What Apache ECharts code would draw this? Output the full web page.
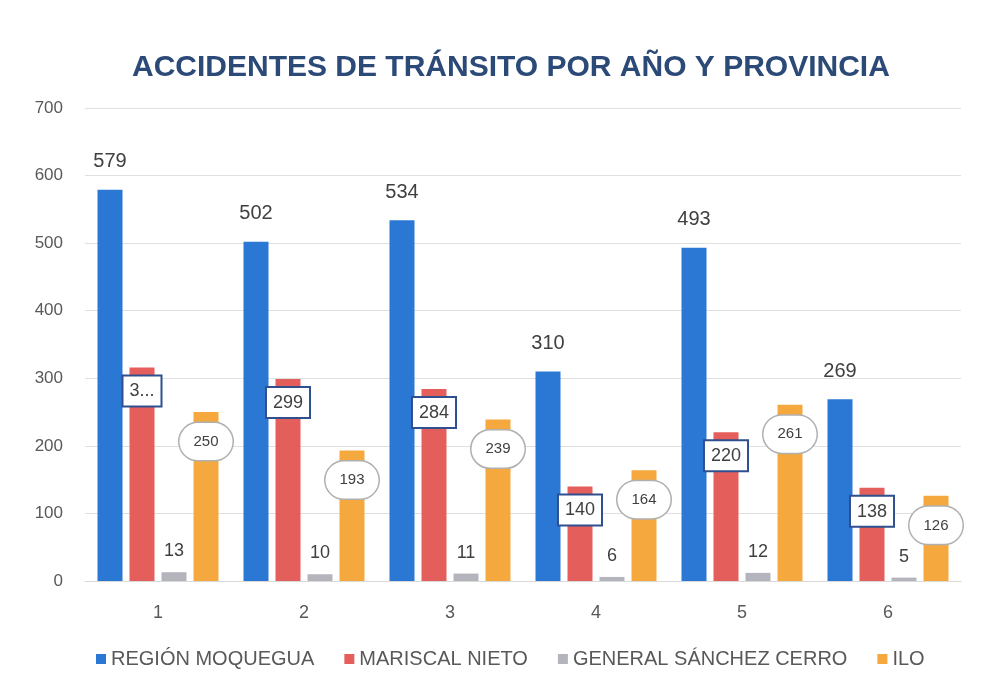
<!DOCTYPE html>
<html><head><meta charset="utf-8">
<script src="https://cdn.jsdelivr.net/npm/echarts@6/dist/echarts.min.js"></script>
<style>html,body{margin:0;padding:0;background:#fff}#c{width:983px;height:700px}</style>
</head><body><div id="c"></div>
<script>
const categories = ['1','2','3','4','5','6'];
const regionMoquegua = [579, 502, 534, 310, 493, 269];
const mariscalNieto = [316, 299, 284, 140, 220, 138];
const mariscalLabels = ['3...', '299', '284', '140', '220', '138'];
const generalSanchez = [13, 10, 11, 6, 12, 5];
const ilo = [250, 193, 239, 164, 261, 126];
const seriesNames = ['REGIÓN MOQUEGUA', 'MARISCAL NIETO', 'GENERAL SÁNCHEZ CERRO', 'ILO'];
const yTicks = [0, 100, 200, 300, 400, 500, 600, 700];

const font = 'Liberation Sans, Arial, sans-serif';
const chart = echarts.init(document.getElementById('c'));
chart.setOption({
  backgroundColor: '#ffffff',
  animation: false,
  title: {
    text: 'ACCIDENTES DE TRÁNSITO POR AÑO Y PROVINCIA',
    left: 127, top: 48,
    textStyle: { color: '#2b4a78', fontSize: 30, fontWeight: 'bold', fontFamily: font }
  },
  legend: {
    bottom: 26, left: 91, itemWidth: 10, itemHeight: 10, itemGap: 30,
    icon: 'rect',
    textStyle: { color: '#595959', fontSize: 20, fontFamily: font },
    data: seriesNames
  },
  grid: { left: 85, right: 22, top: 108, bottom: 119 },
  xAxis: {
    type: 'category', data: categories,
    axisTick: { show: false },
    axisLine: { lineStyle: { color: '#d9d9d9' } },
    axisLabel: { color: '#595959', fontSize: 18, margin: 23, fontFamily: font }
  },
  yAxis: {
    type: 'value', min: yTicks[0], max: yTicks[yTicks.length - 1], interval: 100,
    axisLabel: { color: '#595959', fontSize: 17, margin: 22, fontFamily: font },
    splitLine: { lineStyle: { color: '#e0e0e0' } }
  },
  series: [
    { name: seriesNames[0], type: 'bar', data: regionMoquegua, barWidth: 25, barGap: '28%',
      itemStyle: { color: '#2a78d4' },
      label: { show: true, position: 'top', distance: 18, color: '#404040', fontSize: 20, fontFamily: font } },
    { name: seriesNames[1], type: 'bar', data: mariscalNieto, barWidth: 25,
      itemStyle: { color: '#e45f5b' },
      label: { show: true, position: 'insideTop', distance: 9, color: '#404040', fontSize: 18, fontFamily: font,
        backgroundColor: '#ffffff', borderColor: '#2f4f8f', borderWidth: 2, padding: [6, 6, 5, 6],
        formatter: p => mariscalLabels[p.dataIndex] } },
    { name: seriesNames[2], type: 'bar', data: generalSanchez, barWidth: 25,
      itemStyle: { color: '#b4b4bd' },
      label: { show: true, position: 'top', distance: 12, color: '#404040', fontSize: 18, fontFamily: font } },
    { name: seriesNames[3], type: 'bar', data: ilo, barWidth: 25,
      itemStyle: { color: '#f5a83e' },
      label: { show: true, position: 'insideTop', distance: 11, color: '#404040', fontSize: 15, fontFamily: font,
        backgroundColor: '#ffffff', borderColor: '#b0b0b0', borderWidth: 1.5, borderRadius: 20, padding: [11, 14] } }
  ]
});
</script></body></html>
